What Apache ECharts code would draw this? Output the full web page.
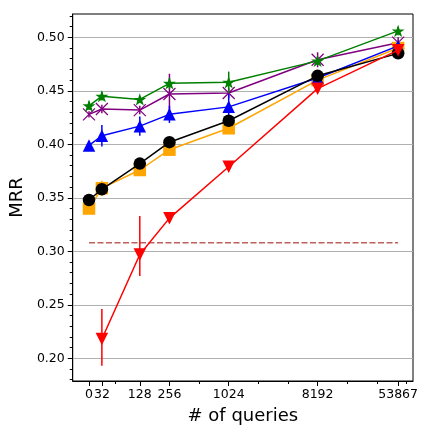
<!DOCTYPE html>
<html>
<head>
<meta charset="utf-8">
<script src="https://cdn.jsdelivr.net/npm/echarts@6/dist/echarts.min.js"></script>
<style>
  html, body { margin: 0; padding: 0; background: #fff; }
  #chart { width: 427px; height: 440px; }
</style>
</head>
<body>
<div id="chart"></div>
<script>
// # of queries (x) and the minor ticks between them
var queries = [0, 32, 128, 256, 1024, 8192, 53867];
var minorQueries = [64, 512, 2048, 4096, 16384, 32768, 65536];
var yMajor = [0.20, 0.25, 0.30, 0.35, 0.40, 0.45, 0.50];
var yMinor = [];
for (var t = 18; t <= 52; t++) yMinor.push(t / 100);

// MRR per series
var mrrGreen  = [0.436, 0.445, 0.442, 0.457, 0.458, 0.478, 0.506];
var mrrPurple = [0.428, 0.433, 0.432, 0.447, 0.448, 0.479, 0.495];
var mrrOrange = [0.340, 0.359, 0.376, 0.395, 0.415, 0.460, 0.490];
var mrrBlue   = [0.399, 0.408, 0.417, 0.428, 0.435, 0.462, 0.492];
var mrrBlack  = [0.348, 0.358, 0.382, 0.402, 0.422, 0.464, 0.485];
var mrrRed    = [null, 0.218, 0.297, 0.331, 0.379, 0.452, 0.488];

// error bars (half width, or [down, up])
var errGreen  = [0.004, 0.004, 0.003, 0.005, 0.010, 0.004, 0.004];
var errPurple = [0.003, 0.004, 0.004, 0.019, 0.005, 0.007, 0.005];
var errOrange = [0.004, 0.007, 0.004, 0.004, 0.005, 0.003, 0.003];
var errBlue   = [0.003, 0.010, 0.009, 0.008, 0.012, 0.003, 0.004];
var errBlack  = [0.002, 0.002, 0.002, 0.002, 0.002, 0.002, 0.002];
var errRed    = [null, [0.025, 0.028], [0.020, 0.036], 0.004, 0.004, 0.003, 0.003];

var baseline = 0.308;

// symlog style scale: linear below 100, log2 above
function fx(q) {
  var L = 100, c = 1.358;
  return q <= L ? q * c / L : c + Math.log2(q / L);
}

var starPath = 'path://M50,0L61.23,34.55L97.55,34.55L68.17,55.9L79.39,90.45L50,69.1L20.61,90.45L31.83,55.9L2.45,34.55L38.77,34.55Z';
var xPath = 'path://M0,0L10,10M10,0L0,10';

function pts(values) {
  var out = [];
  queries.forEach(function (q, i) {
    if (values[i] != null) out.push([fx(q), values[i]]);
  });
  return out;
}

function lineSeries(name, values, color, symbol, size, z, extra) {
  var s = {
    name: name, type: 'line', z: z,
    data: pts(values),
    symbol: symbol, symbolSize: size,
    showAllSymbol: true,
    lineStyle: { color: color, width: 1.5 },
    itemStyle: { color: color },
    emphasis: { disabled: true },
    animation: false
  };
  for (var k in extra) s[k] = extra[k];
  return s;
}

function errSeries(values, err, color, z) {
  var data = [];
  queries.forEach(function (q, i) {
    var e = err[i];
    if (values[i] == null || !e) return;
    var lo = Array.isArray(e) ? e[0] : e;
    var hi = Array.isArray(e) ? e[1] : e;
    data.push([fx(q), values[i] - lo, values[i] + hi]);
  });
  return {
    type: 'custom', z: z, silent: true, animation: false,
    encode: { x: 0, y: [1, 2] },
    data: data,
    renderItem: function (params, api) {
      var a = api.coord([api.value(0), api.value(1)]);
      var b = api.coord([api.value(0), api.value(2)]);
      return {
        type: 'line',
        shape: { x1: a[0], y1: a[1], x2: b[0], y2: b[1] },
        style: { stroke: color, lineWidth: 1.5 }
      };
    }
  };
}

var font = 'DejaVu Sans';
var chart = echarts.init(document.getElementById('chart'), null, { renderer: 'canvas' });

var xMin = -0.549, xMax = 10.933;
var yMin = 0.1788, yMax = 0.5218;

chart.setOption({
  animation: false,
  backgroundColor: '#fff',
  grid: { left: 72, right: 14, top: 14, bottom: 59, show: true, borderColor: '#000', borderWidth: 1, backgroundColor: 'transparent' },
  xAxis: [
    {
      type: 'value', min: xMin, max: xMax,
      name: '# of queries', nameLocation: 'middle', nameGap: 26,
      nameTextStyle: { fontFamily: font, fontSize: 18, color: '#000' },
      axisLine: { onZero: false, lineStyle: { color: '#000', width: 1 } },
      axisTick: { length: 5, lineStyle: { color: '#000', width: 1 }, customValues: queries.map(fx) },
      axisLabel: {
        customValues: queries.map(fx), margin: 7,
        fontFamily: font, fontSize: 12.5, color: '#000',
        formatter: function (v) {
          for (var i = 0; i < queries.length; i++) {
            if (Math.abs(fx(queries[i]) - v) < 1e-6) return String(queries[i]);
          }
          return '';
        }
      },
      splitLine: { show: false }
    },
    {
      type: 'value', min: xMin, max: xMax, position: 'bottom',
      axisLine: { show: false, onZero: false },
      axisTick: { length: 3, lineStyle: { color: '#000', width: 1 }, customValues: minorQueries.map(fx) },
      axisLabel: { show: false },
      splitLine: { show: false }
    }
  ],
  yAxis: [
    {
      type: 'value', min: yMin, max: yMax, splitNumber: 34,
      name: 'MRR', nameLocation: 'middle', nameGap: 34,
      nameTextStyle: { fontFamily: font, fontSize: 18, color: '#000' },
      axisLine: { show: true, onZero: false, lineStyle: { color: '#000', width: 1 } },
      axisTick: { length: 5, lineStyle: { color: '#000', width: 1 }, customValues: yMajor },
      axisLabel: {
        customValues: yMajor, margin: 8,
        fontFamily: font, fontSize: 12.5, color: '#000',
        formatter: function (v) { return v.toFixed(2); }
      },
      splitLine: { show: true, lineStyle: { color: '#b0b0b0', width: 1 } }
    },
    {
      type: 'value', min: yMin, max: yMax, splitNumber: 34, position: 'left',
      axisLine: { show: false, onZero: false },
      axisTick: { length: 3, lineStyle: { color: '#000', width: 1 }, customValues: yMinor },
      axisLabel: { show: false },
      splitLine: { show: false }
    }
  ],
  series: [
    {
      type: 'line', z: 2, data: [[fx(queries[0]), baseline], [fx(queries[queries.length - 1]), baseline]],
      symbol: 'none', lineStyle: { color: '#c0605d', width: 1.5, type: [6, 2.5] }, animation: false
    },
    errSeries(mrrPurple, errPurple, '#800080', 3),
    lineSeries('purple', mrrPurple, '#800080', xPath, 12, 4,
      { itemStyle: { color: 'rgba(0,0,0,0)', borderColor: '#800080', borderWidth: 1.2 } }),
    errSeries(mrrGreen, errGreen, '#008000', 5),
    lineSeries('green', mrrGreen, '#008000', starPath, [13, 12.4], 6),
    errSeries(mrrOrange, errOrange, '#ffa500', 7),
    lineSeries('orange', mrrOrange, '#ffa500', 'rect', 12.5, 8),
    errSeries(mrrBlue, errBlue, '#0000ff', 9),
    lineSeries('blue', mrrBlue, '#0000ff', 'triangle', 12.5, 10),
    errSeries(mrrBlack, errBlack, '#000000', 11),
    lineSeries('black', mrrBlack, '#000000', 'circle', 12.5, 12),
    errSeries(mrrRed, errRed, '#ff0000', 13),
    lineSeries('red', mrrRed, '#ff0000', 'triangle', 12.5, 14, { symbolRotate: 180 })
  ]
});
</script>
</body>
</html>
